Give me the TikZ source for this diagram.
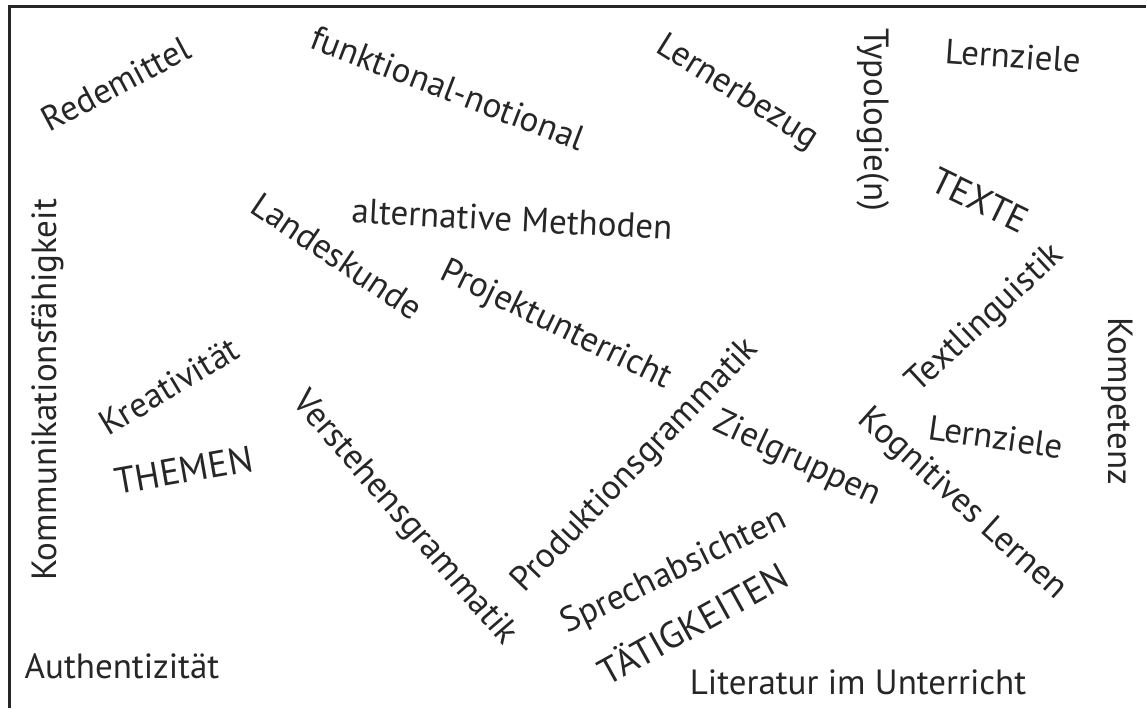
\documentclass[tikz,border=0pt]{standalone}
\usepackage{fontspec}
\setmainfont{PT Sans}
\usepackage{tikz}

\begin{document}
\begin{tikzpicture}[
x=0.5pt, y=-0.5pt,
wordnode/.style={inner sep=0pt, text=black!85, font=\fontsize{17.5}{19}\selectfont},
capsnode/.style={wordnode, font=\fontsize{18.5}{20}\selectfont},
]
\useasboundingbox (0,0) rectangle (1146,708);
%Frame
\draw[line width=1.5pt, black!85] (9,708) -- (9,6) -- (1146,6);

%Nodes
\node[wordnode, rotate=28]   (w1)  at (116,84)  {Redemittel};
\node[wordnode, rotate=-21]  (w2)  at (448,88)  {funktional-notional};
\node[wordnode, rotate=-32]  (w3)  at (737,93)  {Lernerbezug};
\node[wordnode, rotate=-90]  (w4)  at (873,120) {Typologie(n)};
\node[wordnode, rotate=-4]   (w5)  at (1013,56) {Lernziele};
\node[capsnode, rotate=-26]  (w6)  at (980,200) {TEXTE};
\node[wordnode, rotate=90]   (w7)  at (48,390)  {Kommunikationsfähigkeit};
\node[wordnode, rotate=-3]   (w8)  at (512,219) {alternative Methoden};
\node[wordnode, rotate=-34]  (w9)  at (337,256) {Landeskunde};
\node[wordnode, rotate=-26]  (w10) at (556,326) {Projektunterricht};
\node[wordnode, rotate=43]   (w11) at (986,319) {Textlinguistik};
\node[wordnode, rotate=-90]  (w12) at (1117,401) {Kompetenz};
\node[wordnode, rotate=31]   (w13) at (169,386) {Kreativität};
\node[capsnode, rotate=10]   (w14) at (184,470) {THEMEN};
\node[wordnode, rotate=-49]  (w15) at (404,519) {Verstehensgrammatik};
\node[wordnode, rotate=46]   (w16) at (636,466) {Produktionsgrammatik};
\node[wordnode, rotate=-25]  (w17) at (797,460) {Zielgruppen};
\node[wordnode, rotate=-8]   (w18) at (996,437) {Lernziele};
\node[wordnode, rotate=-42]  (w19) at (962,504) {Kognitives Lernen};
\node[wordnode, rotate=26]   (w20) at (674,572) {Sprechabsichten};
\node[capsnode, rotate=29]   (w21) at (692,622) {TÄTIGKEITEN};
\node[wordnode]              (w22) at (122,666) {Authentizität};
\node[wordnode]              (w23) at (858,682) {Literatur im Unterricht};

\end{tikzpicture}
\end{document}
